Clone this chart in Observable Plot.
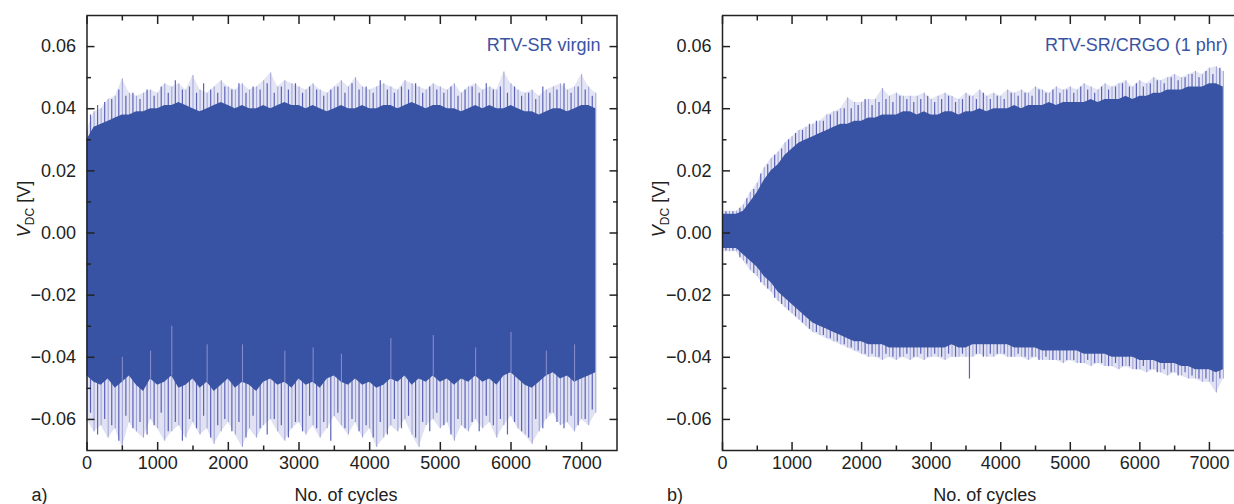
<!DOCTYPE html>
<html><head><meta charset="utf-8">
<script src="https://cdn.jsdelivr.net/npm/d3@7"></script>
<script src="https://cdn.jsdelivr.net/npm/@observablehq/plot@0.6"></script>
<style>
html,body{margin:0;padding:0;background:#fff;overflow:hidden;}
#wrap{position:relative;width:1234px;height:504px;overflow:hidden;background:#fff;}
#wrap svg{position:absolute;top:0;max-width:none;}
</style></head><body><div id="wrap"></div>
<script>
// ---------- data ----------
const cycles = [0,100,200,300,400,500,600,700,800,900,1000,1100,1200,1300,1400,1500,1600,1700,1800,1900,2000,2100,2200,2300,2400,2500,2600,2700,2800,2900,3000,3100,3200,3300,3400,3500,3600,3700,3800,3900,4000,4100,4200,4300,4400,4500,4600,4700,4800,4900,5000,5100,5200,5300,5400,5500,5600,5700,5800,5900,6000,6100,6200,6300,6400,6500,6600,6700,6800,6900,7000,7100,7200];
const midCycles = [50,150,250,350,450,550,650,750,850,950,1050,1150,1250,1350,1450,1550,1650,1750,1850,1950,2050,2150,2250,2350,2450,2550,2650,2750,2850,2950,3050,3150,3250,3350,3450,3550,3650,3750,3850,3950,4050,4150,4250,4350,4450,4550,4650,4750,4850,4950,5050,5150,5250,5350,5450,5550,5650,5750,5850,5950,6050,6150,6250,6350,6450,6550,6650,6750,6850,6950,7050,7150];

// panel a: RTV-SR virgin
const upCoreA = [0.030,0.034,0.035,0.036,0.037,0.038,0.038,0.039,0.039,0.040,0.040,0.041,0.041,0.042,0.041,0.040,0.039,0.040,0.041,0.042,0.041,0.040,0.041,0.040,0.040,0.041,0.040,0.041,0.042,0.041,0.041,0.040,0.041,0.040,0.039,0.040,0.041,0.040,0.040,0.041,0.040,0.040,0.041,0.041,0.040,0.041,0.042,0.041,0.040,0.041,0.041,0.040,0.040,0.039,0.040,0.041,0.040,0.041,0.040,0.040,0.041,0.040,0.039,0.039,0.038,0.039,0.040,0.040,0.039,0.040,0.041,0.041,0.040];
const upPeakA = [0.033,0.039,0.040,0.043,0.044,0.0496,0.045,0.044,0.045,0.046,0.045,0.048,0.047,0.048,0.046,0.0507,0.046,0.045,0.047,0.049,0.047,0.046,0.048,0.046,0.047,0.049,0.0515,0.047,0.049,0.048,0.047,0.046,0.048,0.046,0.045,0.047,0.049,0.047,0.050,0.047,0.046,0.047,0.048,0.047,0.046,0.049,0.048,0.047,0.046,0.048,0.047,0.046,0.048,0.045,0.047,0.048,0.046,0.047,0.046,0.0518,0.048,0.046,0.045,0.046,0.044,0.046,0.047,0.048,0.046,0.047,0.051,0.047,0.045];
const upMidA = [0.038,0.041,0.042,0.043,0.046,0.044,0.045,0.043,0.046,0.044,0.047,0.045,0.049,0.046,0.047,0.045,0.048,0.046,0.045,0.047,0.046,0.048,0.045,0.047,0.046,0.048,0.045,0.047,0.046,0.048,0.045,0.047,0.046,0.044,0.046,0.047,0.045,0.048,0.046,0.047,0.045,0.049,0.046,0.045,0.047,0.046,0.048,0.045,0.047,0.046,0.045,0.047,0.044,0.046,0.047,0.045,0.048,0.046,0.047,0.045,0.047,0.044,0.045,0.043,0.047,0.045,0.046,0.048,0.045,0.047,0.046,0.044];
const loCoreA = [-0.046,-0.048,-0.049,-0.047,-0.050,-0.048,-0.046,-0.049,-0.051,-0.047,-0.049,-0.048,-0.046,-0.050,-0.049,-0.047,-0.050,-0.048,-0.051,-0.049,-0.047,-0.050,-0.048,-0.049,-0.051,-0.048,-0.047,-0.049,-0.048,-0.050,-0.047,-0.049,-0.048,-0.050,-0.047,-0.046,-0.048,-0.049,-0.047,-0.049,-0.048,-0.050,-0.049,-0.047,-0.048,-0.046,-0.049,-0.047,-0.048,-0.046,-0.048,-0.047,-0.049,-0.047,-0.048,-0.046,-0.048,-0.047,-0.049,-0.046,-0.045,-0.047,-0.049,-0.050,-0.048,-0.046,-0.045,-0.047,-0.046,-0.048,-0.047,-0.046,-0.045];
const loPeakA = [-0.060,-0.064,-0.062,-0.066,-0.063,-0.069,-0.061,-0.064,-0.066,-0.060,-0.063,-0.067,-0.064,-0.062,-0.066,-0.061,-0.065,-0.063,-0.068,-0.064,-0.061,-0.065,-0.069,-0.063,-0.066,-0.062,-0.060,-0.064,-0.067,-0.063,-0.061,-0.065,-0.062,-0.066,-0.063,-0.059,-0.062,-0.065,-0.061,-0.066,-0.063,-0.069,-0.066,-0.062,-0.064,-0.060,-0.065,-0.069,-0.062,-0.060,-0.063,-0.061,-0.067,-0.062,-0.064,-0.060,-0.063,-0.061,-0.066,-0.062,-0.059,-0.063,-0.065,-0.068,-0.064,-0.060,-0.058,-0.062,-0.061,-0.064,-0.060,-0.062,-0.058];
const loMidA = [-0.058,-0.065,-0.060,-0.062,-0.067,-0.059,-0.063,-0.061,-0.065,-0.062,-0.058,-0.064,-0.061,-0.067,-0.060,-0.063,-0.059,-0.066,-0.062,-0.060,-0.064,-0.061,-0.066,-0.059,-0.063,-0.065,-0.060,-0.062,-0.066,-0.061,-0.064,-0.059,-0.063,-0.061,-0.067,-0.058,-0.063,-0.060,-0.064,-0.062,-0.066,-0.061,-0.065,-0.060,-0.063,-0.059,-0.066,-0.061,-0.064,-0.058,-0.062,-0.065,-0.060,-0.063,-0.061,-0.064,-0.059,-0.062,-0.060,-0.065,-0.061,-0.064,-0.066,-0.060,-0.063,-0.058,-0.061,-0.063,-0.059,-0.062,-0.060,-0.057];
const innerCycA = [500,900,1200,1700,2200,2800,3200,3600,4300,4900,5500,6000,6500,6900];
const innerValA = [-0.040,-0.038,-0.030,-0.036,-0.036,-0.038,-0.037,-0.039,-0.034,-0.033,-0.037,-0.032,-0.038,-0.036];

// panel b: RTV-SR/CRGO (1 phr)
const upCoreB = [0.006,0.006,0.006,0.007,0.010,0.013,0.017,0.020,0.022,0.025,0.027,0.029,0.030,0.031,0.032,0.033,0.034,0.035,0.035,0.036,0.036,0.037,0.037,0.038,0.038,0.038,0.039,0.039,0.038,0.039,0.038,0.038,0.039,0.039,0.038,0.039,0.039,0.040,0.039,0.040,0.040,0.040,0.041,0.040,0.041,0.041,0.041,0.042,0.041,0.042,0.042,0.042,0.042,0.043,0.042,0.043,0.043,0.043,0.044,0.043,0.044,0.044,0.045,0.045,0.046,0.046,0.046,0.047,0.047,0.047,0.048,0.048,0.047];
const upPeakB = [0.007,0.007,0.007,0.009,0.013,0.016,0.021,0.024,0.026,0.029,0.031,0.033,0.034,0.035,0.036,0.038,0.039,0.040,0.0435,0.042,0.042,0.043,0.043,0.0465,0.044,0.045,0.044,0.044,0.044,0.045,0.043,0.044,0.045,0.044,0.043,0.045,0.044,0.046,0.044,0.045,0.044,0.046,0.045,0.046,0.045,0.047,0.046,0.045,0.047,0.046,0.047,0.046,0.048,0.047,0.046,0.048,0.047,0.048,0.049,0.047,0.049,0.048,0.050,0.049,0.050,0.051,0.050,0.051,0.052,0.051,0.053,0.0535,0.052];
const upMidB = [0.0068,0.0068,0.008,0.011,0.014,0.019,0.022,0.025,0.027,0.030,0.032,0.033,0.035,0.036,0.036,0.038,0.039,0.040,0.040,0.041,0.043,0.041,0.042,0.043,0.042,0.044,0.043,0.042,0.043,0.044,0.042,0.043,0.044,0.042,0.043,0.044,0.043,0.045,0.043,0.044,0.043,0.045,0.044,0.045,0.044,0.046,0.045,0.046,0.045,0.046,0.045,0.047,0.046,0.045,0.047,0.046,0.047,0.048,0.047,0.048,0.047,0.048,0.049,0.048,0.050,0.049,0.050,0.051,0.050,0.052,0.051,0.053];
const loCoreB = [-0.005,-0.005,-0.005,-0.007,-0.009,-0.011,-0.014,-0.016,-0.019,-0.021,-0.023,-0.025,-0.027,-0.029,-0.030,-0.031,-0.032,-0.033,-0.034,-0.035,-0.035,-0.036,-0.036,-0.036,-0.037,-0.037,-0.037,-0.037,-0.037,-0.037,-0.037,-0.037,-0.037,-0.036,-0.037,-0.037,-0.036,-0.036,-0.036,-0.036,-0.036,-0.036,-0.037,-0.037,-0.037,-0.037,-0.038,-0.038,-0.038,-0.038,-0.038,-0.038,-0.039,-0.039,-0.039,-0.039,-0.040,-0.040,-0.040,-0.040,-0.041,-0.041,-0.041,-0.042,-0.042,-0.042,-0.043,-0.043,-0.044,-0.044,-0.044,-0.045,-0.044];
const loPeakB = [-0.006,-0.006,-0.006,-0.009,-0.012,-0.014,-0.017,-0.019,-0.022,-0.024,-0.026,-0.028,-0.030,-0.032,-0.033,-0.034,-0.035,-0.036,-0.037,-0.038,-0.039,-0.040,-0.040,-0.041,-0.040,-0.041,-0.040,-0.041,-0.040,-0.041,-0.040,-0.040,-0.041,-0.040,-0.040,-0.040,-0.040,-0.039,-0.040,-0.040,-0.039,-0.040,-0.040,-0.040,-0.041,-0.040,-0.041,-0.041,-0.041,-0.042,-0.041,-0.042,-0.042,-0.043,-0.042,-0.043,-0.043,-0.044,-0.043,-0.044,-0.044,-0.045,-0.044,-0.045,-0.046,-0.045,-0.046,-0.047,-0.047,-0.048,-0.048,-0.0515,-0.047];
const loMidB = [-0.0058,-0.0058,-0.008,-0.010,-0.013,-0.016,-0.018,-0.021,-0.023,-0.025,-0.027,-0.029,-0.031,-0.032,-0.033,-0.034,-0.035,-0.036,-0.037,-0.038,-0.039,-0.039,-0.040,-0.039,-0.040,-0.040,-0.039,-0.040,-0.039,-0.040,-0.039,-0.040,-0.039,-0.040,-0.039,-0.047,-0.039,-0.040,-0.039,-0.039,-0.039,-0.040,-0.039,-0.040,-0.040,-0.041,-0.040,-0.041,-0.041,-0.041,-0.041,-0.042,-0.041,-0.042,-0.042,-0.043,-0.042,-0.043,-0.043,-0.044,-0.043,-0.044,-0.045,-0.044,-0.045,-0.046,-0.045,-0.046,-0.047,-0.047,-0.048,-0.047];
const innerCycB = [];
const innerValB = [];

const yTicks = [-0.06,-0.04,-0.02,0,0.02,0.04,0.06];
const yMinor = [-0.05,-0.03,-0.01,0.01,0.03,0.05];
const xTicks = [0,1000,2000,3000,4000,5000,6000,7000];
const xMinor = [500,1500,2500,3500,4500,5500,6500];
const labelA = "RTV-SR virgin";
const labelB = "RTV-SR/CRGO (1 phr)";
const xLabel = "No. of cycles";

// ---------- drawing ----------
const FONT = "'Liberation Sans', Arial, Helvetica, sans-serif";
const DARK = "#3953a4";
const LIGHT = "#a6a9db";
const fmt = d => (d < 0 ? "\u2212" : "") + Math.abs(d).toFixed(2);

function panel(o) {
  const data = cycles.map((c, i) => ({c, uc: o.upCore[i], up: o.upPeak[i], lc: o.loCore[i], lp: o.loPeak[i]}));
  const mid = midCycles.map((c, i) => ({c, um: o.upMid[i], lm: o.loMid[i]}));
  const inner = o.innerCyc.map((c, i) => ({c, v: o.innerVal[i], lc: o.loCore[cycles.indexOf(c)]}));
  const svg = Plot.plot({
    width: o.width, height: 504,
    marginLeft: o.ml, marginRight: o.mr, marginTop: 15, marginBottom: 54,
    style: {fontFamily: FONT, fontSize: "18px", color: "#222", background: "transparent"},
    x: {domain: [0, 7500]},
    y: {domain: [-0.07, 0.07]},
    marks: [
      Plot.areaY(data, {x: "c", y1: "uc", y2: "up", fill: LIGHT, fillOpacity: 0.3, clip: true}),
      Plot.areaY(data, {x: "c", y1: "lp", y2: "lc", fill: LIGHT, fillOpacity: 0.35, clip: true}),
      Plot.ruleX(data, {x: "c", y1: 0, y2: "up", stroke: "#9da0d6", strokeWidth: 1, clip: true}),
      Plot.ruleX(data, {x: "c", y1: 0, y2: "lp", stroke: "#9da0d6", strokeWidth: 1, clip: true}),
      Plot.ruleX(mid, {x: "c", y1: 0, y2: "um", stroke: "#5a63b6", strokeWidth: 1.2, clip: true}),
      Plot.ruleX(mid, {x: "c", y1: 0, y2: "lm", stroke: "#5a63b6", strokeWidth: 1.2, clip: true}),
      Plot.areaY(data, {x: "c", y1: "lc", y2: "uc", fill: DARK}),
      Plot.ruleX(inner, {x: "c", y1: "lc", y2: "v", stroke: "#8b8fcf", strokeWidth: 1}),
      Plot.frame({stroke: "#222", strokeWidth: 1.5}),
      Plot.axisY({ticks: yTicks, tickSize: 0, tickPadding: 11, tickFormat: fmt, label: null}),
      Plot.axisY({ticks: yTicks, tickSize: -8, text: null, label: null, strokeWidth: 1.5}),
      Plot.axisY({ticks: yMinor, tickSize: -4.5, text: null, label: null, strokeWidth: 1.5}),
      Plot.axisY({anchor: "right", ticks: yTicks, tickSize: -8, text: null, label: null, strokeWidth: 1.5}),
      Plot.axisY({anchor: "right", ticks: yMinor, tickSize: -4.5, text: null, label: null, strokeWidth: 1.5}),
      Plot.axisX({ticks: xTicks, tickSize: 0, tickPadding: 6, label: null, tickFormat: d => String(d)}),
      Plot.axisX({ticks: xTicks, tickSize: -8, text: null, label: null, strokeWidth: 1.5}),
      Plot.axisX({ticks: xMinor, tickSize: -4.5, text: null, label: null, strokeWidth: 1.5}),
      Plot.axisX({anchor: "top", ticks: xTicks, tickSize: -8, text: null, label: null, strokeWidth: 1.5}),
      Plot.axisX({anchor: "top", ticks: xMinor, tickSize: -4.5, text: null, label: null, strokeWidth: 1.5}),
      Plot.text([o.label], {frameAnchor: "top-right", dx: -16.5, dy: 30, textAnchor: "end", lineAnchor: "middle", fill: DARK, fontSize: 18}),
      Plot.text([xLabel], {frameAnchor: "bottom", dx: o.xlDx, dy: 45, lineAnchor: "middle", fill: "#222", fontSize: 18}),
      Plot.text([o.tag], {frameAnchor: "bottom-left", dx: -55.5, dy: 45, textAnchor: "start", lineAnchor: "middle", fill: "#222", fontSize: 18})
    ]
  });
  svg.style.left = o.left + "px";
  const s = d3.select(svg);
  const t = s.append("text")
    .attr("transform", `translate(${o.ml - 57},209) rotate(-90)`)
    .attr("text-anchor", "middle")
    .attr("fill", "#222")
    .style("font-family", FONT).style("font-size", "18px");
  t.append("tspan").attr("font-style", "italic").text("V");
  t.append("tspan").attr("font-size", "12px").attr("dy", 4).text("DC");
  t.append("tspan").attr("dy", -4).text(" [V]");
  document.getElementById("wrap").appendChild(svg);
}

panel({upCore: upCoreA, upPeak: upPeakA, upMid: upMidA, loCore: loCoreA, loPeak: loPeakA, loMid: loMidA, innerCyc: innerCycA, innerVal: innerValA,
       label: labelA, tag: "a)", left: 0, width: 640, ml: 86.5, mr: 23.5, xlDx: -6});
panel({upCore: upCoreB, upPeak: upPeakB, upMid: upMidB, loCore: loCoreB, loPeak: loPeakB, loMid: loMidB, innerCyc: innerCycB, innerVal: innerValB,
       label: labelB, tag: "b)", left: 636, width: 630, ml: 86, mr: 22.3, xlDx: 1.5});
</script></body></html>
